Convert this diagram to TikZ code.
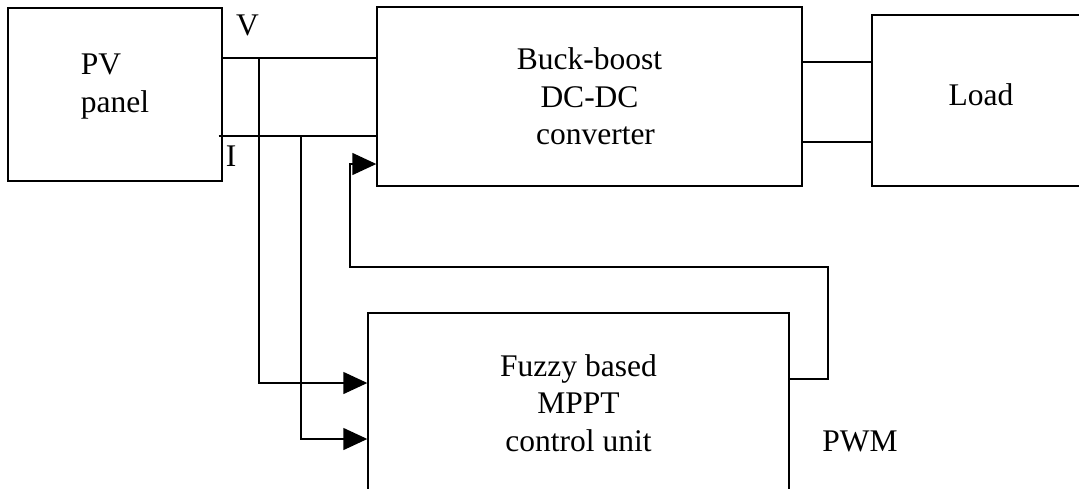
\documentclass[tikz,border=0pt]{standalone}
\usepackage{fontspec}
\setmainfont{Liberation Serif}
\usetikzlibrary{arrows.meta,positioning,calc}

\tikzset{
    blk/.style={draw, line width=1.4pt, inner sep=0pt, align=center,
        font=\fontsize{31.5}{37.5}\selectfont},
    tag/.style={inner sep=0pt, font=\fontsize{31.5}{37.5}\selectfont},
    wire/.style={line width=1.4pt},
    sig/.style={wire, -{Triangle[length=24pt,width=22pt]}}
}

\begin{document}
\begin{tikzpicture}[x=1pt, y=-1pt]
\useasboundingbox (0,0) rectangle (1079,488);
\clip (0,0) rectangle (1079,488);

% Blocks
\node[blk, minimum width=214pt, minimum height=173pt, align=left, text depth=23pt] (pv) at (115,94.5) {PV\\panel};
\node[blk, minimum width=425pt, minimum height=179pt] (buck) at (589.5,96.5)
    {Buck-boost\\DC-DC\\\hspace*{12pt}converter};
\node[blk, minimum width=218pt, minimum height=171pt, text depth=11pt] (load) at (981,100.5) {Load};
\node[blk, minimum width=421pt, minimum height=180pt] (fuzzy) at (578.5,403)
    {Fuzzy based\\MPPT\\control unit};

% Labels
\node[tag] (vlab) at (247.5,25.5) {V};
\node[tag] (ilab) at (231,156) {I};
\node[tag] (pwm) at (860,441.5) {PWM};

% Taps and bends
\coordinate (vtap) at (259,58);
\coordinate (itap) at (301,136);
\coordinate (outp) at (840,62);
\coordinate (outn) at (840,142);
\coordinate (fbr) at (828,267);
\coordinate (fbl) at (350,267);

% PV to converter
\draw[wire] (pv.east |- vtap) -- (buck.west |- vtap);
\draw[wire] ($(pv.east |- itap)+(-4,0)$) -- (buck.west |- itap);

% converter to load
\draw[wire] (buck.east |- outp) -- (load.west |- outp);
\draw[wire] (buck.east |- outn) -- (load.west |- outn);

% V and I sensed by the controller
\draw[sig] (vtap) |- ([yshift=20pt]fuzzy.west);
\draw[sig] (itap) |- ([yshift=-36pt]fuzzy.west);

% PWM feedback
\draw[sig] ([yshift=24pt]fuzzy.east) -| (fbr) -- (fbl) |- ([yshift=-67.5pt]buck.west);

\end{tikzpicture}
\end{document}
